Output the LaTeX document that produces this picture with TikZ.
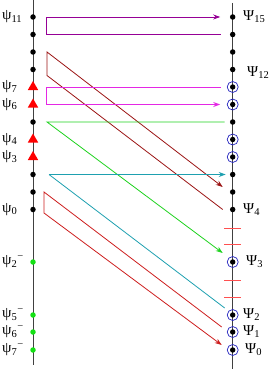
\documentclass[tikz,border=0pt]{standalone}
\usepackage{fontspec}
\setmainfont{Liberation Serif}
\usepackage{tikz}
\usetikzlibrary{arrows.meta,positioning,shapes.geometric,calc}
\definecolor{purp}{RGB}{150,0,150}
\definecolor{pnk}{RGB}{228,40,228}
\definecolor{brn}{RGB}{155,20,20}
\definecolor{grn}{RGB}{30,210,30}
\definecolor{tel}{RGB}{30,160,176}
\definecolor{rd}{RGB}{205,30,30}
\definecolor{tickred}{RGB}{255,80,80}
\definecolor{ringblue}{RGB}{35,35,190}
\definecolor{dotgreen}{RGB}{20,225,20}

\begin{document}
\begin{tikzpicture}[x=1pt, y=-1pt,
  dot/.style={circle, fill=black, inner sep=0pt, minimum size=5.5pt},
  gdot/.style={circle, fill=dotgreen, inner sep=0pt, minimum size=5.5pt},
  tri/.style={regular polygon, regular polygon sides=3, fill=red, inner sep=0pt, minimum size=12pt},
  ring/.style={circle, draw=ringblue, line width=0.7pt, inner sep=0pt, minimum size=11pt,
               path picture={\fill[black] (path picture bounding box.center) circle (2.7pt);}},
  lab/.style={font=\fontsize{15}{17}\selectfont, inner sep=0pt, anchor=west},
  link/.style={line width=0.8pt},
  >={Stealth[length=7pt,width=5pt]}]
  \useasboundingbox (0,0) rectangle (278,369);

  % the two axes
  \draw[line width=0.8pt, black!75] (33,0) -- (33,365);
  \draw[line width=0.8pt, black!75] (232.7,3) -- (232.7,369);
  \foreach \y in {228,244,280,297}
    \draw[line width=1pt, tickred] (224,\y) -- (241,\y);

  % left levels
  \foreach \i/\y/\s in {11/17/dot, 10/34.5/dot, 9/52/dot, 8/69.5/dot, 7/87/tri, 6/104.5/tri,
                        5/122/dot, 4/139.5/tri, 3/157/tri, 2/174.5/dot, 1/192/dot, 0/209.5/dot,
                        m2/262/gdot, m5/315/gdot, m6/332/gdot, m7/350/gdot}
    \node[\s] (l\i) at (33,\y) {};

  % right levels
  \foreach \i/\y/\s in {15/17/dot, 14/34.5/dot, 13/52/dot, 12/69.5/dot, 11/87/ring, 10/104.5/ring,
                        9/122/dot, 8/139.5/ring, 7/157/ring, 6/174.5/dot, 5/192/dot, 4/209.5/dot,
                        3/262/ring, 2/315/ring, 1/332/ring, 0/350/ring}
    \node[\s] (r\i) at (232.7,\y) {};

  % transitions
  \draw[link, purp, ->] ([xshift=-12pt]r14.center) -- ([xshift=13pt]l10.center)
       -- ([xshift=13pt]l11.center) -- ([xshift=-12.5pt]r15.center);
  \draw[link, brn, ->] ([xshift=-10pt]r4.center) -- ([shift={(14pt,-6pt)}]l8.center)
       -- ([xshift=14pt]l9.center) -- ([shift={(-10pt,5pt)}]r5.center);
  \draw[link, pnk, ->] ([xshift=-12pt]r11.center) -- ([xshift=13pt]l7.center)
       -- ([xshift=13pt]l6.center) -- ([xshift=-12.5pt]r10.center);
  \draw[link, grn, ->] ([xshift=-8pt]r9.center) -- ([xshift=14pt]l5.center)
       -- ([shift={(-10pt,9pt)}]r3.center);
  \draw[link, tel, ->] ([xshift=16pt]l2.center) -- ([xshift=-7pt]r6.center);
  \draw[link, tel] ([xshift=16pt]l2.center) -- ([shift={(-8pt,7pt)}]r2.center);
  \draw[link, rd, ->] ([shift={(-11pt,5pt)}]r1.center) -- ([xshift=11pt]l1.center)
       -- ([shift={(11pt,-3.5pt)}]l0.center) -- ([shift={(-11pt,5pt)}]r0.center);

  % labels
  \coordinate (lx) at (2,0);
  \coordinate (rx) at (243,0);
  \node[lab] (t11) at (lx |- l11) {ψ\textsubscript{11}};
  \node[lab] (t7) at (lx |- l7) {ψ\textsubscript{7}};
  \node[lab] (t6) at (lx |- l6) {ψ\textsubscript{6}};
  \node[lab] (t4) at (lx |- l4) {ψ\textsubscript{4}};
  \node[lab] (t3) at (lx |- l3) {ψ\textsubscript{3}};
  \node[lab] (t0) at (lx |- l0) {ψ\textsubscript{0}};
  \node[lab] (tm2) at (lx |- lm2) {ψ\textsubscript{2}\textsuperscript{−}};
  \node[lab] (tm5) at (lx |- lm5) {ψ\textsubscript{5}\textsuperscript{−}};
  \node[lab] (tm6) at (lx |- lm6) {ψ\textsubscript{6}\textsuperscript{−}};
  \node[lab] (tm7) at (lx |- lm7) {ψ\textsubscript{7}\textsuperscript{−}};
  \node[lab] (u15) at (rx |- r15) {Ψ\textsubscript{15}};
  \node[lab, xshift=4pt, yshift=-3pt] (u12) at (rx |- r12) {Ψ\textsubscript{12}};
  \node[lab] (u4) at (rx |- r4) {Ψ\textsubscript{4}};
  \node[lab, xshift=3pt] (u3) at (rx |- r3) {Ψ\textsubscript{3}};
  \node[lab] (u2) at (rx |- r2) {Ψ\textsubscript{2}};
  \node[lab] (u1) at (rx |- r1) {Ψ\textsubscript{1}};
  \node[lab, xshift=2pt] (u0) at (rx |- r0) {Ψ\textsubscript{0}};
\end{tikzpicture}
\end{document}
